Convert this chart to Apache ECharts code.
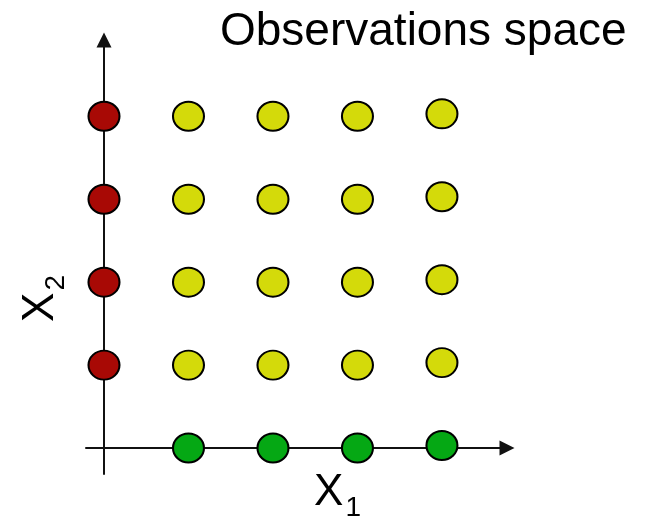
<!DOCTYPE html>
<html>
<head>
<meta charset="utf-8">
<script src="https://cdn.jsdelivr.net/npm/echarts@6/dist/echarts.min.js"></script>
<style>
  html, body { margin: 0; padding: 0; background: #fff; }
  #chart { width: 654px; height: 517px; }
</style>
</head>
<body>
<div id="chart"></div>
<script>
// observations on the x2 axis (x1 = 0)
var redX = [0, 0, 0, 0];
var redY = [1, 2, 3, 4];

// interior observations
var yellowX = [1, 2, 3, 4, 1, 2, 3, 4, 1, 2, 3, 4, 1, 2, 3, 4];
var yellowY = [4, 4, 4, 4.03, 3, 3, 3, 3.03, 2, 2, 2, 2.03, 1, 1, 1, 1.03];

// observations on the x1 axis (x2 = 0)
var greenX = [1, 2, 3, 4];
var greenY = [0, 0, 0, 0.03];

var titleText = "Observations space";
var fontFam = "Liberation Sans";

function pts(xs, ys) {
    var out = [];
    for (var i = 0; i < xs.length; i++)
        out.push([xs[i], ys[i]]);
    return out;
}

// ellipse so that the marks come out a bit wider than tall
var dot = "path://M0,-1A1,1 0 1,1 0,1A1,1 0 1,1 0,-1Z";

function dots(name, color, data) {
    return {
        name: name,
        type: 'scatter',
        data: data,
        symbol: dot,
        symbolSize: [31, 29],
        itemStyle: { color: color, borderColor: '#000', borderWidth: 2, opacity: 1 },
        emphasis: { disabled: true },
        z: 3
    };
}

var axisLine = {
    show: true,
    onZero: true,
    symbol: ['none', 'triangle'],
    symbolSize: [15, 15],
    lineStyle: { color: '#111', width: 2 }
};

// X with a subscript
var nameRich = {
    a: { fontFamily: fontFam, fontSize: 44, color: '#000', lineHeight: 44, verticalAlign: 'top' },
    b: { fontFamily: fontFam, fontSize: 28, color: '#000', lineHeight: 28, padding: [23, 0, 0, 2], verticalAlign: 'top' }
};

var chart = echarts.init(document.getElementById('chart'));

chart.setOption({
    animation: false,
    backgroundColor: '#fff',
    title: {
        text: titleText,
        left: 220,
        top: 9,
        padding: 0,
        textStyle: { fontFamily: fontFam, fontSize: 46, fontWeight: 'normal', color: '#000' }
    },
    grid: { left: 86, right: 147, top: 40, bottom: 43, outerBoundsMode: 'none', containLabel: false },
    xAxis: {
        type: 'value',
        min: -0.213,
        max: 4.77,
        axisLine: axisLine,
        axisTick: { show: false },
        axisLabel: { show: false },
        splitLine: { show: false },
        name: '{a|X}{b|1}',
        nameLocation: 'middle',
        nameGap: -3,
        nameTextStyle: { padding: [0, 0, 0, 82], rich: nameRich }
    },
    yAxis: {
        type: 'value',
        min: -0.313,
        max: 4.92,
        axisLine: axisLine,
        axisTick: { show: false },
        axisLabel: { show: false },
        splitLine: { show: false },
        name: '{a|X}{b|2}',
        nameLocation: 'middle',
        nameRotate: 90,
        nameGap: 23,
        nameTextStyle: { padding: [0, 83, 0, 0], rich: nameRich }
    },
    series: [
        dots('x2 axis', '#A80905', pts(redX, redY)),
        dots('interior', '#D4DA0A', pts(yellowX, yellowY)),
        dots('x1 axis', '#05A814', pts(greenX, greenY))
    ]
});
</script>
</body>
</html>
